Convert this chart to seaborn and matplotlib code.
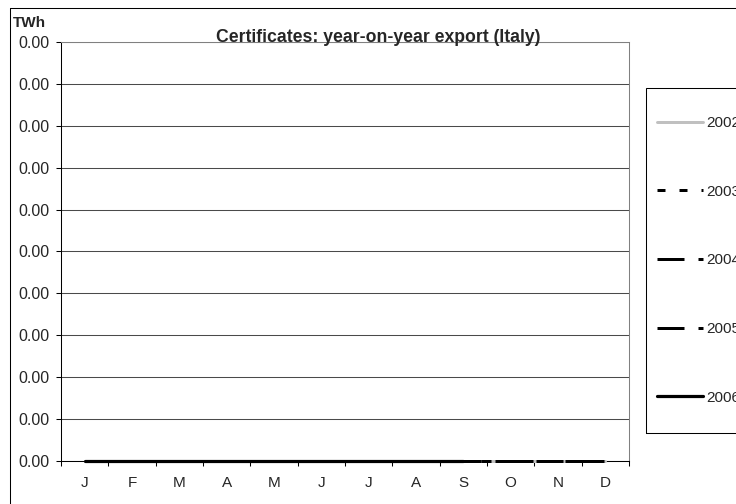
import numpy as np
import pandas as pd
import matplotlib
matplotlib.use("Agg")
import matplotlib.pyplot as plt
import seaborn as sns
from matplotlib.lines import Line2D
from matplotlib.patches import Rectangle

# ---- data (all values read as zero; displayed labels "0.00") ----
months = ["J", "F", "M", "A", "M", "J", "J", "A", "S", "O", "N", "D"]
years = ["2002", "2003", "2004", "2005", "2006"]
v2002 = [0.0, 0.0, 0.0, 0.0, 0.0, 0.0, 0.0, 0.0, 0.0, 0.0, 0.0, 0.0]
v2003 = [0.0, 0.0, 0.0, 0.0, 0.0, 0.0, 0.0, 0.0, 0.0, 0.0, 0.0, 0.0]
v2004 = [0.0, 0.0, 0.0, 0.0, 0.0, 0.0, 0.0, 0.0, 0.0, 0.0, 0.0, 0.0]
v2005 = [0.0, 0.0, 0.0, 0.0, 0.0, 0.0, 0.0, 0.0, 0.0, 0.0, 0.0, 0.0]
v2006 = [0.0, 0.0, 0.0, 0.0, 0.0, 0.0, 0.0, 0.0, 0.0, np.nan, np.nan, np.nan]
y_ticks = [0.0, 0.0001, 0.0002, 0.0003, 0.0004, 0.0005, 0.0006, 0.0007, 0.0008, 0.0009, 0.001]
y_tick_labels = ["0.00"] * len(y_ticks)
title = "Certificates: year-on-year export (Italy)"
unit = "TWh"

series = {"2002": v2002, "2003": v2003, "2004": v2004, "2005": v2005, "2006": v2006}
rows = []
for yr in years:
    for i, v in enumerate(series[yr]):
        rows.append({"idx": i, "value": v, "year": yr})
df = pd.DataFrame(rows)

# ---- style ----
sns.set_style("white")
plt.rcParams["font.family"] = ["Liberation Sans", "DejaVu Sans"]
plt.rcParams["lines.scale_dashes"] = False

W, H = 736, 504
fig = plt.figure(figsize=(W / 100, H / 100), dpi=100)
fig.patch.set_facecolor("white")
ax = fig.add_axes([61 / W, 1 - 461 / H, (629 - 61) / W, (461 - 42) / H])

px = 0.72  # points per pixel
palette = {"2002": "#c0c0c0", "2003": "black", "2004": "black", "2005": "black", "2006": "black"}
dashes = {
    "2002": "",
    "2003": (8 * px, 14 * px),
    "2004": (27 * px, 14 * px),
    "2005": (27 * px, 14 * px, 5 * px, 14 * px),
    "2006": "",
}
sizes = {"2002": 3 * px, "2003": 3 * px, "2004": 3 * px, "2005": 3 * px, "2006": 3.2 * px}

sns.lineplot(data=df, x="idx", y="value", hue="year", style="year", size="year",
             palette=palette, dashes=dashes, sizes=sizes, hue_order=years,
             style_order=years, size_order=years, errorbar=None, legend=False,
             ax=ax, clip_on=False, zorder=5)

ax.set_xlim(-0.5, 11.5)
ax.set_ylim(0, 0.001)
ax.set_xlabel("")
ax.set_ylabel("")

# x: labels at centres, ticks at category boundaries
ax.set_xticks(range(12))
ax.set_xticklabels(months, fontsize=11)
ax.set_xticks(np.arange(-0.5, 12, 1.0), minor=True)
ax.tick_params(axis="x", which="major", length=0, pad=10.5)
ax.tick_params(axis="x", which="minor", length=3.6, width=0.75, direction="out", color="black", bottom=True)

ax.set_yticks(y_ticks)
ax.set_yticklabels(y_tick_labels, fontsize=11.5)
ax.tick_params(axis="y", which="major", length=3.6, width=0.75, direction="out",
               color="black", left=True, pad=5)

ax.yaxis.grid(True, color="#4a4a4a", linewidth=0.75)
ax.xaxis.grid(False)
ax.set_axisbelow(True)
for s in ["left", "bottom"]:
    ax.spines[s].set_color("black")
    ax.spines[s].set_linewidth(0.75)
for s in ["top", "right"]:
    ax.spines[s].set_color("#808080")
    ax.spines[s].set_linewidth(0.75)

# ---- legend ----
handles = [Line2D([0], [0], color=palette[y], lw=sizes[y],
                  dashes=dashes[y] if dashes[y] else (None, None)) for y in years]
leg = ax.legend(handles, years, loc="upper left",
                bbox_to_anchor=(657 / W, 1 - 116 / H), bbox_transform=fig.transFigure,
                frameon=False, borderpad=0, borderaxespad=0, handlelength=3.0,
                handletextpad=0.2, labelspacing=3.58, fontsize=11)
fig.add_artist(Rectangle((646 / W, 1 - 433 / H), (780 - 646) / W, (433 - 88) / H,
                         transform=fig.transFigure, fill=False, edgecolor="black", lw=0.75))

# ---- chart area border (clipped on right / bottom) ----
fig.add_artist(Line2D([10 / W, 10 / W], [0, 1 - 8 / H], color="black", lw=0.75, transform=fig.transFigure))
fig.add_artist(Line2D([10 / W, 1], [1 - 8 / H, 1 - 8 / H], color="black", lw=0.75, transform=fig.transFigure))

# ---- texts ----
fig.text(378 / W, 1 - 37 / H, title, ha="center", va="center", fontsize=12.7, fontweight="bold")
fig.text(13 / W, 1 - 16 / H, unit, ha="left", va="top", fontsize=11, fontweight="bold")

fig.savefig("out.png", dpi=100)
